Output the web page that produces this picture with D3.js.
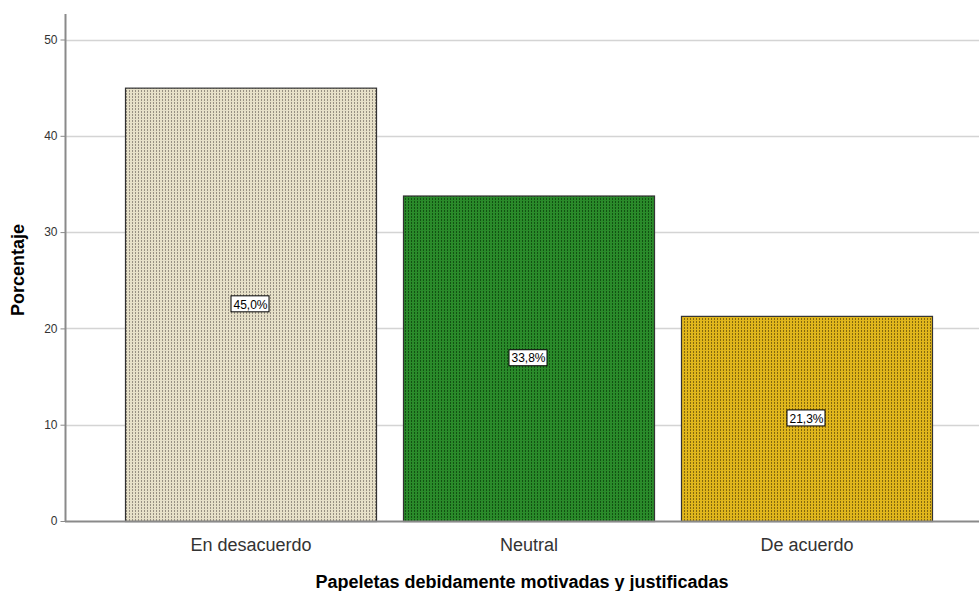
<!DOCTYPE html>
<html><head><meta charset="utf-8">
<script src="https://cdn.jsdelivr.net/npm/d3@7"></script>
<style>body{margin:0;background:#fff}svg{display:block}</style>
</head><body>
<svg id="c" width="979" height="591"></svg>
<script>
const categories = ["En desacuerdo", "Neutral", "De acuerdo"];
const values = [45.0, 33.8, 21.3];
const valueLabels = ["45,0%", "33,8%", "21,3%"];
const yTicks = [0, 10, 20, 30, 40, 50];
const barColors = ["#e6e0c8", "#2a8a2a", "#e0b61c"];
const dotColors = ["#8e887a", "#0f4a0f", "#7a600c"];

const svg = d3.select("#c");
const y = d3.scaleLinear().domain([0, 50]).range([521, 39.5]);
const x = d3.scaleBand().domain(categories).range([125, 932]).paddingInner(0.097).paddingOuter(0);

const defs = svg.append("defs");
barColors.forEach((c, i) => {
  const p = defs.append("pattern").attr("id", "p" + i).attr("width", 3).attr("height", 3)
    .attr("patternUnits", "userSpaceOnUse");
  p.append("rect").attr("width", 3).attr("height", 3).attr("fill", c);
  p.append("rect").attr("x", 0).attr("y", 0).attr("width", 1).attr("height", 2).attr("fill", dotColors[i]).attr("opacity", 0.9);
});

// gridlines
svg.append("g").selectAll("line").data(yTicks.filter(d => d > 0)).join("line")
  .attr("x1", 66).attr("x2", 979).attr("y1", d => Math.round(y(d)) + 0.5).attr("y2", d => Math.round(y(d)) + 0.5)
  .attr("stroke", "#d4d4d4").attr("stroke-width", 1.5);

// y axis
const yAxis = d3.axisLeft(y).tickValues(yTicks).tickSize(6).tickPadding(3).tickFormat(d3.format("d"));
const gy = svg.append("g").attr("transform", "translate(65.5,0)").call(yAxis);
gy.select(".domain").remove();
gy.attr("color", "#333");
gy.selectAll(".tick line").attr("stroke", "#8a8a8a").attr("x2", 0).attr("x1", -5);
gy.selectAll(".tick text").attr("font-family", "Liberation Sans, Arial, sans-serif").attr("font-size", 12).attr("fill", "#333").attr("x", -8);
svg.append("line").attr("x1", 65.5).attr("x2", 65.5).attr("y1", 14).attr("y2", 521).attr("stroke", "#8a8a8a").attr("stroke-width", 2);

// bars
svg.append("g").selectAll("rect").data(values).join("rect")
  .attr("x", (d, i) => x(categories[i]) + 0.5)
  .attr("y", d => y(d) + 0.5)
  .attr("width", x.bandwidth())
  .attr("height", d => y(0) - y(d))
  .attr("fill", (d, i) => "url(#p" + i + ")")
  .attr("stroke", "#333").attr("stroke-width", 1.2);

// x axis line
svg.append("line").attr("x1", 65).attr("x2", 979).attr("y1", 521.5).attr("y2", 521.5).attr("stroke", "#8a8a8a").attr("stroke-width", 2);

// x axis labels
const xAxis = d3.axisBottom(x).tickSize(0).tickPadding(17);
const gx = svg.append("g").attr("transform", "translate(0.5,521)").call(xAxis);
gx.select(".domain").remove();
gx.attr("color", "#333");
gx.selectAll(".tick text").attr("font-family", "Liberation Sans, Arial, sans-serif").attr("font-size", 18).attr("fill", "#333");

// value labels
const lab = svg.append("g").selectAll("g").data(values).join("g")
  .attr("transform", (d, i) => `translate(${x(categories[i]) + x.bandwidth() / 2},${y(d / 2)})`);
lab.append("text").text((d, i) => valueLabels[i])
  .attr("text-anchor", "middle").attr("dy", "0.35em")
  .attr("font-family", "Liberation Sans, Arial, sans-serif").attr("font-size", 12).attr("fill", "#000");
lab.each(function () {
  const g = d3.select(this);
  const b = g.select("text").node().getBBox();
  g.insert("rect", "text").attr("x", Math.round(b.x) - 2.5).attr("y", Math.round(b.y) - 1.5)
    .attr("width", Math.round(b.width) + 4).attr("height", Math.round(b.height) + 2)
    .attr("fill", "#fff").attr("stroke", "#000").attr("stroke-width", 1);
});

// axis titles
svg.append("text").attr("transform", "translate(24,270) rotate(-90)").attr("text-anchor", "middle")
  .attr("font-family", "Liberation Sans, Arial, sans-serif").attr("font-size", 18).attr("font-weight", "bold").attr("fill", "#000")
  .text("Porcentaje");
svg.append("text").attr("x", 522).attr("y", 588).attr("text-anchor", "middle")
  .attr("font-family", "Liberation Sans, Arial, sans-serif").attr("font-size", 18).attr("font-weight", "bold").attr("fill", "#000")
  .text("Papeletas debidamente motivadas y justificadas");
</script>
</body></html>
